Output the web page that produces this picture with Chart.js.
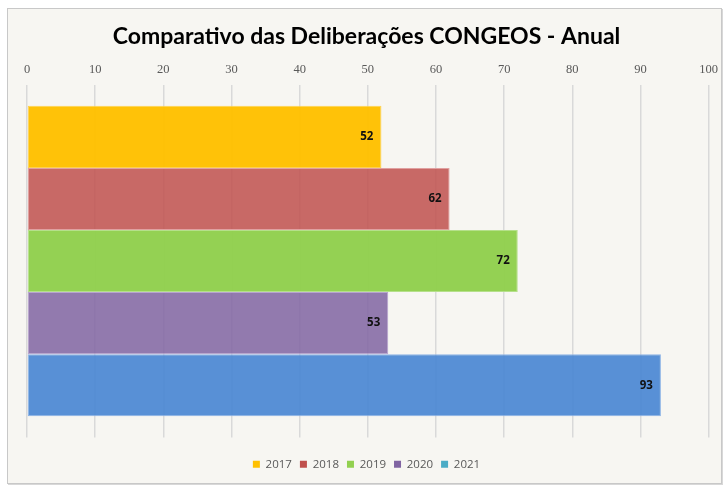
<!DOCTYPE html>
<html>
<head>
<meta charset="utf-8">
<script src="https://cdn.jsdelivr.net/npm/chart.js@4"></script>
<style>
  html, body { margin: 0; padding: 0; background: #ffffff; }
  #frame {
    position: absolute; left: 7px; top: 8px; width: 713px; height: 474px;
    background: #f7f6f2; border: 1px solid #c8c8c8;
    box-shadow: 1px 1px 0 #d8d8d8;
  }
  canvas { display: block; }
</style>
</head>
<body>
<div id="frame"><canvas id="chart" width="717" height="474"></canvas></div>
<script>
// data
const years = ["2017", "2018", "2019", "2020", "2021"];
const deliberacoes = [52, 62, 72, 53, 93];
const xTicks = [0, 10, 20, 30, 40, 50, 60, 70, 80, 90, 100];

const barColors = ["rgba(255,192,0,0.97)", "rgba(192,80,77,0.85)", "rgba(146,208,80,0.98)", "rgba(128,100,162,0.85)", "rgba(79,138,212,0.95)"];
const borderColors = ["#ffd24d", "#e0a0a0", "#b5e08a", "#b8a5cf", "#8db3e6"];
const legendColors = ["#ffc000", "#c0504d", "#92d050", "#8064a2", "#4bacc6"];

// value labels drawn inside the end of each bar
const valueLabels = {
  id: "valueLabels",
  afterDatasetsDraw(chart) {
    const ctx = chart.ctx;
    ctx.save();
    ctx.font = "bold 11.5px 'Open Sans', sans-serif";
    ctx.fillStyle = "#111";
    ctx.textAlign = "right";
    ctx.textBaseline = "middle";
    chart.data.datasets.forEach((ds, i) => {
      const meta = chart.getDatasetMeta(i);
      meta.data.forEach((el, j) => {
        ctx.fillText(String(ds.data[j]), el.x - 8, el.y);
      });
    });
    ctx.restore();
  }
};

const ctx = document.getElementById("chart").getContext("2d");
new Chart(ctx, {
  type: "bar",
  data: {
    labels: [""],
    datasets: years.map((y, i) => ({
      label: y,
      data: [deliberacoes[i]],
      backgroundColor: barColors[i],
      borderColor: borderColors[i],
      borderWidth: 1,
      borderSkipped: false
    }))
  },
  options: {
    indexAxis: "y",
    responsive: false,
    animation: false,
    layout: { padding: { left: 0, right: 0, top: 0, bottom: 3 } },
    datasets: { bar: { categoryPercentage: 0.88, barPercentage: 1.0 } },
    plugins: {
      title: {
        display: true,
        text: "Comparativo das Deliberações CONGEOS - Anual",
        color: "#000",
        font: { family: "Lato", size: 23, weight: "bold" },
        padding: { top: 14, bottom: 5 }
      },
      legend: {
        position: "bottom",
        title: { display: true, text: "", font: { size: 1, lineHeight: 1 }, padding: 6 },
        labels: {
          boxWidth: 7, boxHeight: 7,
          color: "#595959",
          font: { family: "'Open Sans', sans-serif", size: 11.5 },
          padding: 8,
          generateLabels: chart => chart.data.datasets.map((ds, i) => ({
            text: ds.label,
            fillStyle: legendColors[i],
            strokeStyle: legendColors[i],
            lineWidth: 0,
            datasetIndex: i,
            fontColor: "#595959"
          }))
        }
      },
      tooltip: { enabled: false }
    },
    scales: {
      x: {
        position: "top",
        min: 0, max: 100,
        afterBuildTicks: axis => { axis.ticks = xTicks.map(v => ({ value: v })); },
        border: { display: false },
        grid: { color: "#d9d9d9", lineWidth: 1.5, drawTicks: false },
        ticks: {
          color: "#595959",
          padding: 7,
          font: { family: "'Liberation Serif', serif", size: 12.5 }
        }
      },
      y: {
        display: true,
        border: { display: false },
        grid: { display: false },
        ticks: { display: false },
        afterFit: axis => { axis.width = 19; }
      }
    }
  },
  plugins: [valueLabels]
});
</script>
</body>
</html>
